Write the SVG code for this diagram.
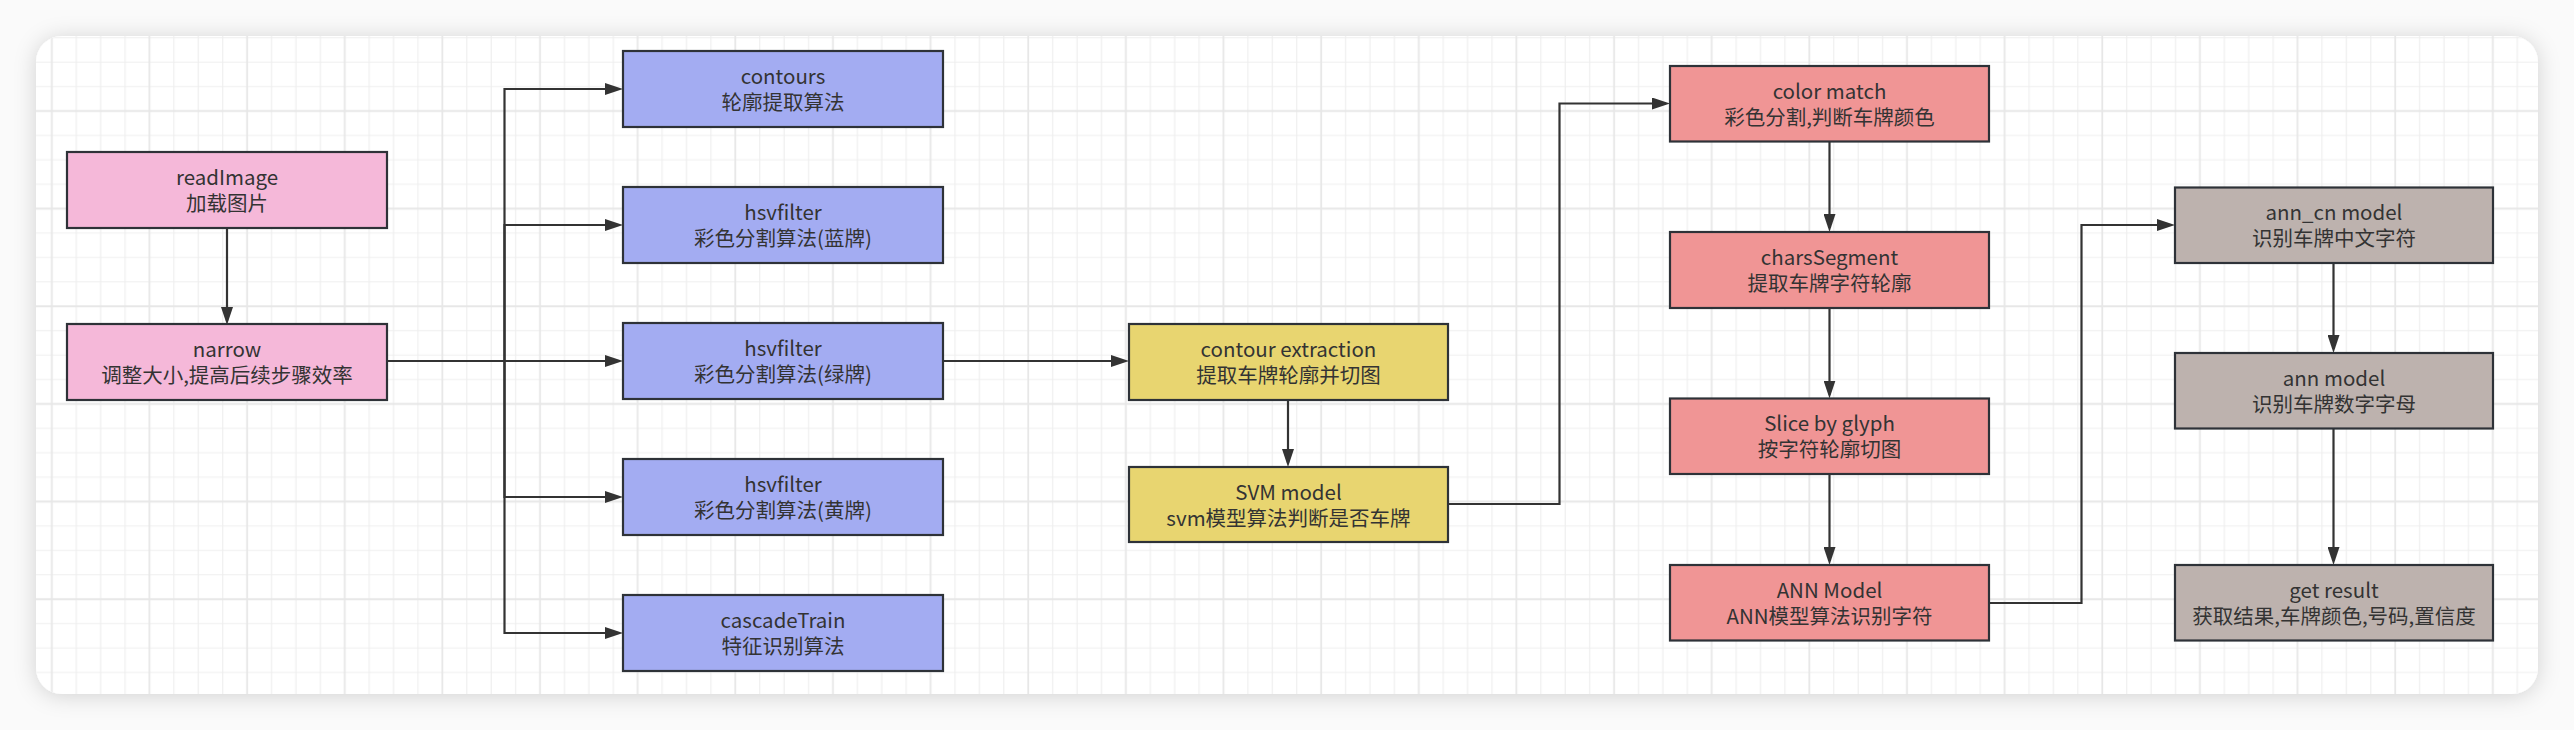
<svg xmlns="http://www.w3.org/2000/svg" width="2574" height="730" viewBox="0 0 2574 730">
<style>
.box{stroke:#2e3238;stroke-width:2.2}
.pink{fill:#f5b8d9}
.blue{fill:#a3acf2}
.yellow{fill:#e8d570}
.red{fill:#f09595}
.gray{fill:#bdb2ae}
.t{font-family:"Noto Sans CJK SC","Noto Sans",sans-serif;font-size:20.5px;fill:#333;text-anchor:middle}
.c{fill:none;stroke:#333;stroke-width:2.2}
</style>
<defs>
<pattern id="grid" patternUnits="userSpaceOnUse" x="-9.165" y="-47.665" width="97.64" height="97.64">
<path d="M12.205 0V97.64M36.615 0V97.64M85.435 0V97.64M0 12.205H97.64M0 36.615H97.64M0 85.435H97.64" stroke="#efefef" stroke-width="1.2" fill="none"/>
<path d="M61.025 0V97.64M0 61.025H97.64" stroke="#e7e7e7" stroke-width="1.8" fill="none"/>
</pattern>
<filter id="sh" x="-5%" y="-10%" width="110%" height="120%">
<feDropShadow dx="0" dy="2" stdDeviation="11" flood-color="#000" flood-opacity="0.16"/>
</filter>
<marker id="arr" viewBox="0 0 18 12" refX="14" refY="6" markerWidth="18" markerHeight="12" markerUnits="userSpaceOnUse" orient="auto">
<path d="M0,0 L18,6 L0,12 z" fill="#333"/>
</marker>
</defs>
<rect width="2574" height="730" fill="#fafafa"/>
<rect x="36" y="36" width="2502" height="658" rx="26" fill="#fff" filter="url(#sh)"/>
<rect x="36" y="36" width="2502" height="658" rx="26" fill="url(#grid)"/>

<g id="connectors">
<path class="c" d="M227 228V321" marker-end="url(#arr)"/>
<path class="c" d="M387 361H504.5V89H619" marker-end="url(#arr)"/>
<path class="c" d="M387 361H504.5V225H619" marker-end="url(#arr)"/>
<path class="c" d="M387 361H619" marker-end="url(#arr)"/>
<path class="c" d="M387 361H504.5V497H619" marker-end="url(#arr)"/>
<path class="c" d="M387 361H504.5V633H619" marker-end="url(#arr)"/>
<path class="c" d="M943 361H1125" marker-end="url(#arr)"/>
<path class="c" d="M1288 400V463" marker-end="url(#arr)"/>
<path class="c" d="M1448 504H1559.5V103.5H1666" marker-end="url(#arr)"/>
<path class="c" d="M1829.5 141.5V228" marker-end="url(#arr)"/>
<path class="c" d="M1829.5 308V394.5" marker-end="url(#arr)"/>
<path class="c" d="M1829.5 474V561" marker-end="url(#arr)"/>
<path class="c" d="M1989 603H2081.5V225H2171" marker-end="url(#arr)"/>
<path class="c" d="M2333.5 263V349" marker-end="url(#arr)"/>
<path class="c" d="M2333.5 428V561" marker-end="url(#arr)"/>
</g>

<g id="readImage"><rect class="box pink" x="67" y="152" width="320" height="76"/><text class="t" x="227" y="185">readImage</text><text class="t" x="227" y="211">加载图片</text></g>
<g id="narrow"><rect class="box pink" x="67" y="324" width="320" height="76"/><text class="t" x="227" y="357">narrow</text><text class="t" x="227" y="383">调整大小,提高后续步骤效率</text></g>

<g id="contours"><rect class="box blue" x="623" y="51" width="320" height="76"/><text class="t" x="783" y="84">contours</text><text class="t" x="783" y="110">轮廓提取算法</text></g>
<g id="hsvfilter_blue"><rect class="box blue" x="623" y="187" width="320" height="76"/><text class="t" x="783" y="220">hsvfilter</text><text class="t" x="783" y="246">彩色分割算法(蓝牌)</text></g>
<g id="hsvfilter_green"><rect class="box blue" x="623" y="323" width="320" height="76"/><text class="t" x="783" y="356">hsvfilter</text><text class="t" x="783" y="382">彩色分割算法(绿牌)</text></g>
<g id="hsvfilter_yellow"><rect class="box blue" x="623" y="459" width="320" height="76"/><text class="t" x="783" y="492">hsvfilter</text><text class="t" x="783" y="518">彩色分割算法(黄牌)</text></g>
<g id="cascadeTrain"><rect class="box blue" x="623" y="595" width="320" height="76"/><text class="t" x="783" y="628">cascadeTrain</text><text class="t" x="783" y="654">特征识别算法</text></g>

<g id="contour_extraction"><rect class="box yellow" x="1129" y="324" width="319" height="76"/><text class="t" x="1288.5" y="357">contour extraction</text><text class="t" x="1288.5" y="383">提取车牌轮廓并切图</text></g>
<g id="svm_model"><rect class="box yellow" x="1129" y="467" width="319" height="75"/><text class="t" x="1288.5" y="500">SVM model</text><text class="t" x="1288.5" y="526">svm模型算法判断是否车牌</text></g>

<g id="color_match"><rect class="box red" x="1670" y="66" width="319" height="75.5"/><text class="t" x="1829.5" y="99">color match</text><text class="t" x="1829.5" y="125">彩色分割,判断车牌颜色</text></g>
<g id="charsSegment"><rect class="box red" x="1670" y="232" width="319" height="76"/><text class="t" x="1829.5" y="265">charsSegment</text><text class="t" x="1829.5" y="291">提取车牌字符轮廓</text></g>
<g id="slice_by_glyph"><rect class="box red" x="1670" y="398.5" width="319" height="75.5"/><text class="t" x="1829.5" y="431">Slice by glyph</text><text class="t" x="1829.5" y="457">按字符轮廓切图</text></g>
<g id="ann_model_red"><rect class="box red" x="1670" y="565" width="319" height="75.5"/><text class="t" x="1829.5" y="598">ANN Model</text><text class="t" x="1829.5" y="624">ANN模型算法识别字符</text></g>

<g id="ann_cn_model"><rect class="box gray" x="2175" y="187.5" width="318" height="75.5"/><text class="t" x="2334" y="220">ann_cn model</text><text class="t" x="2334" y="246">识别车牌中文字符</text></g>
<g id="ann_model"><rect class="box gray" x="2175" y="353" width="318" height="75.5"/><text class="t" x="2334" y="386">ann model</text><text class="t" x="2334" y="412">识别车牌数字字母</text></g>
<g id="get_result"><rect class="box gray" x="2175" y="565" width="318" height="75.5"/><text class="t" x="2334" y="598">get result</text><text class="t" x="2334" y="624">获取结果,车牌颜色,号码,置信度</text></g>
</svg>
